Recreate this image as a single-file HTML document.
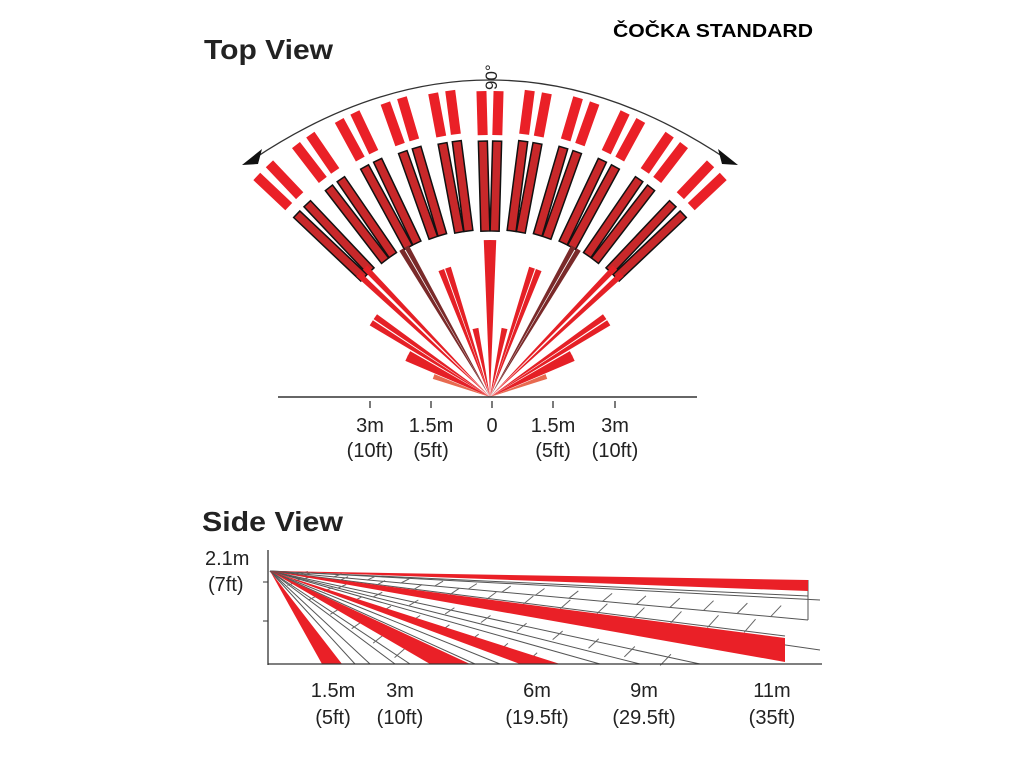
<!DOCTYPE html>
<html><head><meta charset="utf-8"><style>
html,body{margin:0;padding:0;background:#fff;width:1024px;height:768px;overflow:hidden}
svg text{font-family:"Liberation Sans",sans-serif}
</style></head><body>
<svg id="s" width="1024" height="768" xmlns="http://www.w3.org/2000/svg">
<text x="613" y="37" font-size="18" font-weight="bold" fill="#000" textLength="200" lengthAdjust="spacingAndGlyphs">ČOČKA STANDARD</text>
<text x="204" y="59" font-size="28" font-weight="bold" fill="#222" textLength="129" lengthAdjust="spacingAndGlyphs">Top View</text>
<text x="202" y="531" font-size="28" font-weight="bold" fill="#222" textLength="141" lengthAdjust="spacingAndGlyphs">Side View</text>
<path d="M252,160 Q490,0 728,160" fill="none" stroke="#333" stroke-width="1.3"/>
<polygon points="242,165 262,149 258,164" fill="#111"/>
<polygon points="738,165 718,149 722,164" fill="#111"/>
<text transform="translate(497,90) rotate(-90)" font-size="17" fill="#222">90°</text>
<g id="fan"></g>
<line x1="278" y1="397" x2="697" y2="397" stroke="#333" stroke-width="1.5"/>
<g stroke="#333" stroke-width="1.3">
<line x1="370" y1="401" x2="370" y2="408"/><line x1="431" y1="401" x2="431" y2="408"/><line x1="492" y1="401" x2="492" y2="408"/><line x1="553" y1="401" x2="553" y2="408"/><line x1="615" y1="401" x2="615" y2="408"/>
</g>
<g font-size="20" fill="#222" text-anchor="middle">
<text x="370" y="432">3m</text><text x="370" y="457">(10ft)</text>
<text x="431" y="432">1.5m</text><text x="431" y="457">(5ft)</text>
<text x="492" y="432">0</text>
<text x="553" y="432">1.5m</text><text x="553" y="457">(5ft)</text>
<text x="615" y="432">3m</text><text x="615" y="457">(10ft)</text>
</g>
<g id="side"></g>
<line x1="268" y1="550" x2="268" y2="665" stroke="#333" stroke-width="1.3"/>
<line x1="268" y1="664" x2="822" y2="664" stroke="#333" stroke-width="1.3"/>
<line x1="263" y1="582" x2="268" y2="582" stroke="#333"/><line x1="263" y1="621" x2="268" y2="621" stroke="#333"/>
<g font-size="20" fill="#222">
<text x="205" y="565">2.1m</text><text x="208" y="591">(7ft)</text>
</g>
<g font-size="20" fill="#222" text-anchor="middle">
<text x="333" y="697">1.5m</text><text x="333" y="724">(5ft)</text>
<text x="400" y="697">3m</text><text x="400" y="724">(10ft)</text>
<text x="537" y="697">6m</text><text x="537" y="724">(19.5ft)</text>
<text x="644" y="697">9m</text><text x="644" y="724">(29.5ft)</text>
<text x="772" y="697">11m</text><text x="772" y="724">(35ft)</text>
</g>
</svg>
<script>
var NS="http://www.w3.org/2000/svg",fan=document.getElementById('fan'),side=document.getElementById('side');
var ox=490,oy=397;
function el(p,tag,a){var e=document.createElementNS(NS,tag);for(var k in a)e.setAttribute(k,a[k]);p.appendChild(e);return e;}
function bar(deg,r1,r2,w,fill,stroke){var a=deg*Math.PI/180,dx=Math.sin(a),dy=-Math.cos(a),px=Math.cos(a)*w/2,py=Math.sin(a)*w/2;
var pts=[[ox+dx*r1-px,oy+dy*r1-py],[ox+dx*r2-px,oy+dy*r2-py],[ox+dx*r2+px,oy+dy*r2+py],[ox+dx*r1+px,oy+dy*r1+py]];
el(fan,'polygon',{points:pts.map(function(p){return p.join(',')}).join(' '),fill:fill,stroke:stroke||'none','stroke-width':1.5});}
function ray(deg,r,w,fill){var a=deg*Math.PI/180,dx=Math.sin(a),dy=-Math.cos(a),px=Math.cos(a)*w/2,py=Math.sin(a)*w/2;
el(fan,'polygon',{points:ox+','+oy+' '+(ox+dx*r-px)+','+(oy+dy*r-py)+' '+(ox+dx*r+px)+','+(oy+dy*r+py),fill:fill});}
for(var i=-5;i<=5;i++){var t=i*9,k=Math.abs(i);
 var o1=262+k*3,o2=306+k*3;
 [-1.6,1.6].forEach(function(d){bar(t+d,o1,o2,10,'#ea2027');bar(t+d,166+k*1.5,256+k*2,9,'#c8282a','#111');});}
[[-1,157],[1,157]].forEach(function(r){ray(r[0],r[1],7,'#e52026')});
[[-18,136],[-21,136],[18,136],[21,136],[-44,180],[-47,180],[44,180],[47,180],[-55,140],[-58,140],[55,140],[58,140],[-62,92],[-65,92],[62,92],[65,92],[-12,70],[12,70]].forEach(function(r){ray(r[0],r[1],6,'#e52026')});
[[-29,172],[-31,172],[29,172],[31,172]].forEach(function(r){ray(r[0],r[1],5,'#7a2a2a')});
ray(-70,60,5,'#e86a50');ray(70,60,5,'#e86a50');
var sx=270,sy=571;
function sp(pts,fill,stroke){el(side,'polygon',{points:pts.map(function(p){return p.join(',')}).join(' '),fill:fill,stroke:stroke||'none','stroke-width':1});}
function ln(x2,y2){el(side,'line',{x1:sx,y1:sy,x2:x2,y2:y2,stroke:'#555','stroke-width':1});}
[[808,620],[808,596],[785,636],[700,664],[640,664],[600,664],[500,664],[475,664],[410,664],[395,664],[370,664],[355,664],[820,600],[820,650]].forEach(function(p){ln(p[0],p[1])});
el(side,'line',{x1:808,y1:580,x2:808,y2:620,stroke:'#555'});
function hatch(x2,y2,n,h){for(var j=1;j<n;j++){var f=j/n,x=sx+(x2-sx)*f,y=sy+(y2-sy)*f;
 el(side,'line',{x1:x-4,y1:y+h*f,x2:x+4+h*f*0.3,y2:y-2,stroke:'#666','stroke-width':1});}}
hatch(808,610,16,10);hatch(785,625,14,12);hatch(700,664,12,10);hatch(560,664,10,8);hatch(420,664,7,8);
sp([[sx,sy],[808,580],[808,591]],'#ea2027');
sp([[sx,sy],[785,638],[785,662]],'#ea2027');
sp([[sx,sy],[520,664],[560,664]],'#ea2027');
sp([[sx,sy],[430,664],[470,664]],'#ea2027');
sp([[sx,sy],[322,664],[342,664]],'#ea2027');
</script>
</body></html>
